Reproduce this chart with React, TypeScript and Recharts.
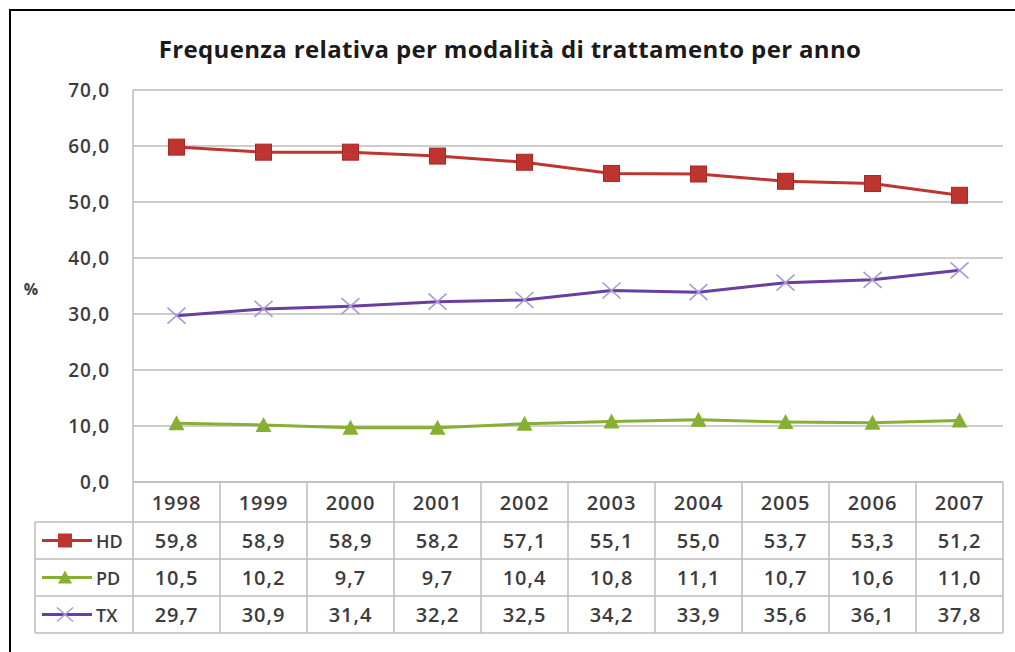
import React from "react";
import { LineChart, Line, XAxis, YAxis, CartesianGrid } from "recharts";

const years = ["1998", "1999", "2000", "2001", "2002", "2003", "2004", "2005", "2006", "2007"];
const hd = [59.8, 58.9, 58.9, 58.2, 57.1, 55.1, 55.0, 53.7, 53.3, 51.2];
const pd = [10.5, 10.2, 9.7, 9.7, 10.4, 10.8, 11.1, 10.7, 10.6, 11.0];
const tx = [29.7, 30.9, 31.4, 32.2, 32.5, 34.2, 33.9, 35.6, 36.1, 37.8];
const yTicks = [0, 10, 20, 30, 40, 50, 60, 70];
const seriesNames = ["HD", "PD", "TX"];

const data = years.map((y, i) => ({ year: y, HD: hd[i], PD: pd[i], TX: tx[i] }));

const W = 1015;
const H = 652;
const PLOT_L = 133;
const PLOT_R = 1003;
const PLOT_T = 90;
const PLOT_B = 482;
const COL_W = (PLOT_R - PLOT_L) / years.length;
const LEG_L = 35;
const ROW_TOPS = [482, 522, 559, 596, 633];

const RED = "#BE3530";
const RED_DARK = "#A52A25";
const GREEN = "#86B034";
const PURPLE = "#6A3DA0";
const LAVENDER = "#A99BD6";
const GRID = "#BDBDBD";
const TEXT = "#3c3c3c";
const FONT = "'Open Sans', 'Noto Sans', sans-serif";

const fmt = (v: number) => v.toFixed(1).replace(".", ",");

const SquareDot = (props: any) => {
  const { cx, cy } = props;
  if (cx == null || cy == null) return null;
  return <rect x={cx - 8} y={cy - 8} width={16} height={16} fill={RED} stroke={RED_DARK} strokeWidth={1} />;
};

const TriangleDot = (props: any) => {
  const { cx, cy } = props;
  if (cx == null || cy == null) return null;
  return <polygon points={`${cx},${cy - 8} ${cx + 8},${cy + 7} ${cx - 8},${cy + 7}`} fill={GREEN} />;
};

const XDot = (props: any) => {
  const { cx, cy } = props;
  if (cx == null || cy == null) return null;
  return (
    <g stroke={LAVENDER} strokeWidth={1.6}>
      <line x1={cx - 9} y1={cy - 8} x2={cx + 9} y2={cy + 8} />
      <line x1={cx - 9} y1={cy + 8} x2={cx + 9} y2={cy - 8} />
    </g>
  );
};

const YTick = (props: any) => {
  const { y, payload } = props;
  return (
    <text x={110} y={y} textAnchor="end" dominantBaseline="central" fontFamily={FONT} fontSize={19} fontWeight={600} letterSpacing={1} fill={TEXT}>
      {fmt(payload.value)}
    </text>
  );
};

const XTick = (props: any) => {
  const { x, payload } = props;
  return (
    <text x={x} y={(ROW_TOPS[0] + ROW_TOPS[1]) / 2} textAnchor="middle" dominantBaseline="central" fontFamily={FONT} fontSize={20} fontWeight={600} letterSpacing={1} fill={TEXT}>
      {payload.value}
    </text>
  );
};

const legendSample = (name: string, cy: number) => {
  const x1 = 42;
  const x2 = 92;
  const cx = 65;
  if (name === "HD") {
    return (
      <g>
        <line x1={x1} y1={cy} x2={x2} y2={cy} stroke={RED} strokeWidth={3} />
        <rect x={cx - 7} y={cy - 7} width={14} height={14} fill={RED} />
      </g>
    );
  }
  if (name === "PD") {
    return (
      <g>
        <line x1={x1} y1={cy} x2={x2} y2={cy} stroke={GREEN} strokeWidth={3} />
        <polygon points={`${cx},${cy - 7} ${cx + 7},${cy + 6} ${cx - 7},${cy + 6}`} fill={GREEN} />
      </g>
    );
  }
  return (
    <g>
      <line x1={x1} y1={cy} x2={x2} y2={cy} stroke={PURPLE} strokeWidth={3} />
      <line x1={cx - 8} y1={cy - 7} x2={cx + 8} y2={cy + 7} stroke={LAVENDER} strokeWidth={1.5} />
      <line x1={cx - 8} y1={cy + 7} x2={cx + 8} y2={cy - 7} stroke={LAVENDER} strokeWidth={1.5} />
    </g>
  );
};

const TableOverlay = () => {
  const rowsValues = [hd, pd, tx];
  return (
    <svg width={W} height={H} style={{ position: "absolute", left: 0, top: 0, pointerEvents: "none" }}>
      <line x1={PLOT_L} y1={ROW_TOPS[0]} x2={PLOT_R} y2={ROW_TOPS[0]} stroke={GRID} strokeWidth={1.5} />
      {ROW_TOPS.slice(1).map((y, i) => (
        <line key={"h" + i} x1={LEG_L} y1={y} x2={PLOT_R} y2={y} stroke={GRID} strokeWidth={1.5} />
      ))}
      <line x1={LEG_L} y1={ROW_TOPS[1]} x2={LEG_L} y2={ROW_TOPS[4]} stroke={GRID} strokeWidth={1.5} />
      <line x1={PLOT_L} y1={PLOT_T} x2={PLOT_L} y2={ROW_TOPS[4]} stroke={GRID} strokeWidth={1.5} />
      {years.map((_, i) => (
        <line key={"v" + i} x1={PLOT_L + COL_W * (i + 1)} y1={ROW_TOPS[0]} x2={PLOT_L + COL_W * (i + 1)} y2={ROW_TOPS[4]} stroke={GRID} strokeWidth={1.5} />
      ))}
      {seriesNames.map((name, r) => {
        const cy = (ROW_TOPS[r + 1] + ROW_TOPS[r + 2]) / 2;
        return (
          <g key={name}>
            {legendSample(name, cy)}
            <text x={96} y={cy} dominantBaseline="central" fontFamily={FONT} fontSize={18} fontWeight={600} fill={TEXT}>
              {name}
            </text>
            {rowsValues[r].map((v, i) => (
              <text key={i} x={PLOT_L + COL_W * (i + 0.5)} y={cy} textAnchor="middle" dominantBaseline="central" fontFamily={FONT} fontSize={20} fontWeight={600} letterSpacing={1} fill={TEXT}>
                {fmt(v)}
              </text>
            ))}
          </g>
        );
      })}
      <text x={510} y={48} textAnchor="middle" dominantBaseline="central" fontFamily={FONT} fontSize={24} fontWeight={700} letterSpacing={0.35} fill="#1a1a1a">
        Frequenza relativa per modalità di trattamento per anno
      </text>
      <text x={31} y={289} textAnchor="middle" dominantBaseline="central" fontFamily={FONT} fontSize={16} fontWeight={700} fill={TEXT}>
        %
      </text>
    </svg>
  );
};

export default function App() {
  return (
    <div style={{ position: "absolute", left: 0, top: 0, width: W, height: H, background: "#fff", overflow: "hidden" }}>
      <div style={{ position: "absolute", left: 9, top: 9, width: W, height: H, borderLeft: "2px solid #000", borderTop: "2px solid #000" }} />
      <div style={{ position: "absolute", left: 0, top: 0 }}>
        <LineChart
          width={W}
          height={H}
          data={data}
          margin={{ top: PLOT_T, right: W - PLOT_R, bottom: 0, left: PLOT_L - 60 }}
        >
          <CartesianGrid horizontal vertical={false} stroke={GRID} strokeWidth={1.5} />
          <XAxis
            dataKey="year"
            height={H - PLOT_B}
            padding={{ left: COL_W / 2, right: COL_W / 2 }}
            axisLine={false}
            tickLine={false}
            tick={<XTick />}
            interval={0}
          />
          <YAxis
            width={60}
            domain={[0, 70]}
            ticks={yTicks}
            axisLine={false}
            tickLine={false}
            tick={<YTick />}
            interval={0}
          />
          <Line type="linear" dataKey="HD" stroke={RED} strokeWidth={3} dot={<SquareDot />} isAnimationActive={false} />
          <Line type="linear" dataKey="PD" stroke={GREEN} strokeWidth={3} dot={<TriangleDot />} isAnimationActive={false} />
          <Line type="linear" dataKey="TX" stroke={PURPLE} strokeWidth={3} dot={<XDot />} isAnimationActive={false} />
        </LineChart>
      </div>
      <TableOverlay />
    </div>
  );
}
